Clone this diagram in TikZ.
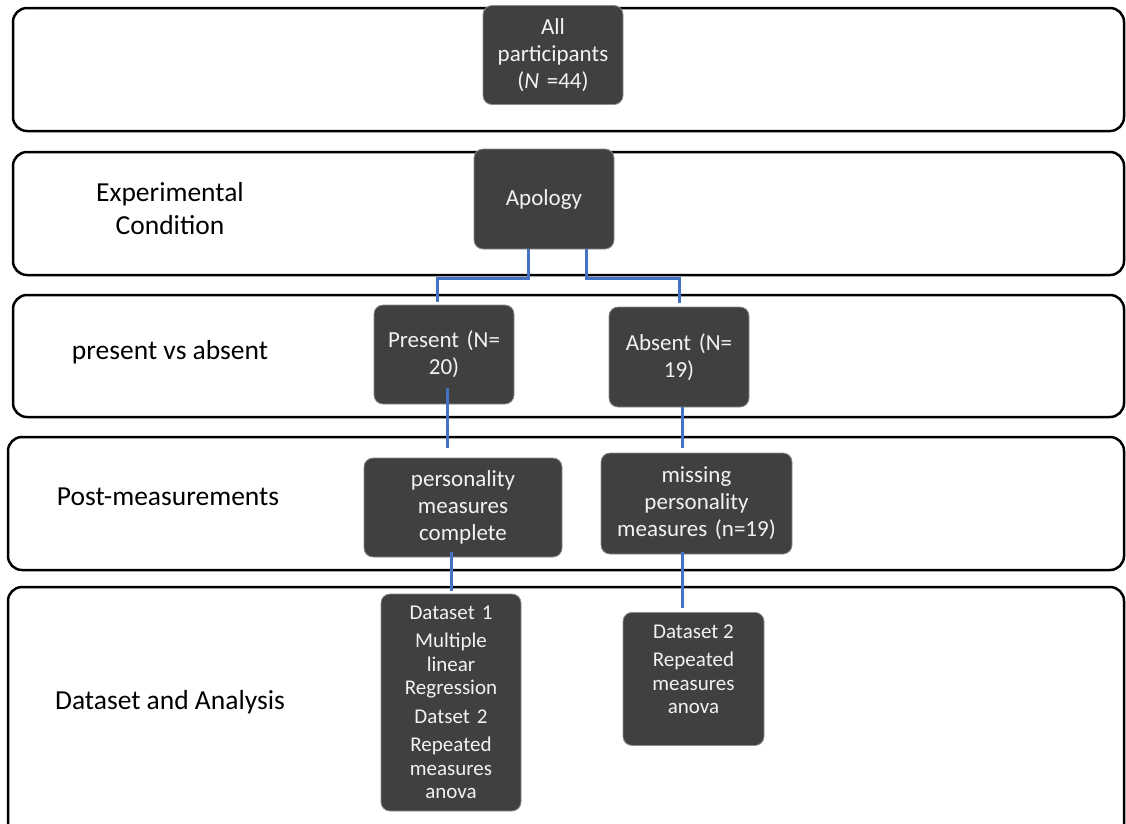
\documentclass[tikz,border=0pt]{standalone}
\usepackage{fontspec}
\setmainfont{Carlito}
\definecolor{boxgray}{HTML}{404040}
\definecolor{linkblue}{HTML}{4472C4}
\tikzset{
	band/.style={draw=black, line width=2.5pt, rounded corners=14pt},
	lbl/.style={align=center, font=\fontsize{27.5}{33}\selectfont},
	dbox/.style={draw=black!45, fill=boxgray, text=white!95!black, line width=0.8pt, rounded corners=9pt, inner sep=0pt, align=center, font=\fontsize{23}{27}\selectfont},
	dsmall/.style={dbox, font=\fontsize{21}{23.5}\selectfont},
	link/.style={draw=linkblue, line width=3pt},
}

\begin{document}
\begin{tikzpicture}[x=1pt, y=-1pt]
			%%%%% START %%%%%
			\useasboundingbox (0,0) rectangle (1126,823);
			\clip (0,0) rectangle (1126,823);
			
			% rows
			\draw[band] (13,8) rectangle (1124,131);
			\draw[band] (13,152) rectangle (1124,275);
			\draw[band] (13,295) rectangle (1124,417);
			\draw[band] (8,437) rectangle (1124,570);
			\draw[band] (8,587) rectangle (1124,850);
			
			% row labels
			\node[lbl] (cond) at (170,208.5) {Experimental\\Condition};
			\node[lbl] (pva) at (170,352) {present vs absent};
			\node[lbl] (post) at (168,497) {Post-measurements};
			\node[lbl] (ana) at (170,702) {Dataset and Analysis};
			
			% boxes
			\node[dbox, text width=140pt, minimum height=99pt] (all) at (553,55) {All\\participants\\(\textit{N} =44)};
			\node[dbox, text width=140pt, minimum height=100pt] (apology) at (544,199) {Apology};
			\node[dbox, text width=140pt, minimum height=99pt] (present) at (444,354.5) {Present (N=\\20)};
			\node[dbox, text width=140pt, minimum height=100pt] (absent) at (679,357) {Absent (N=\\19)};
			\node[dbox, text width=198pt, minimum height=99pt] (pers) at (463,507.5) {personality\\measures\\complete};
			\node[dbox, text width=191pt, minimum height=101pt] (missing) at (696.5,503.5) {missing\\personality\\measures (n=19)};
			\node[dsmall, text width=140pt, minimum height=217pt] (dsone) at (451,702.5) {Dataset 1\\[5pt]Multiple\\linear\\Regression\\[5pt]Datset 2\\[5pt]Repeated\\measures\\anova};
			\node[dsmall, anchor=north] (dstwo) at (693.5,612) {\parbox[c][133pt][t]{141pt}{\vspace*{12pt}\centering Dataset 2\\[5pt]Repeated\\measures\\anova}};
			
			% links
			\draw[link] ([xshift=-16pt]apology.south) -- ++(0,29) -| ([xshift=-7pt,yshift=3pt]present.north);
			\draw[link] ([xshift=42pt]apology.south) -- ++(0,29) -| ([yshift=4pt]absent.north);
			\draw[link] ([xshift=3pt,yshift=16pt]present.south) -- ([xshift=-16pt,yshift=10pt]pers.north);
			\draw[link] ([xshift=3pt]absent.south) -- ([xshift=-14.5pt,yshift=5pt]missing.north);
			\draw[link] ([xshift=-12pt,yshift=5pt]pers.south) -- ([yshift=3pt]dsone.north);
			\draw[link] ([xshift=-14.5pt,yshift=2pt]missing.south) -- ([xshift=-11.5pt,yshift=4pt]dstwo.north);
			
			%%%%% END %%%%%
\end{tikzpicture}
\end{document}
